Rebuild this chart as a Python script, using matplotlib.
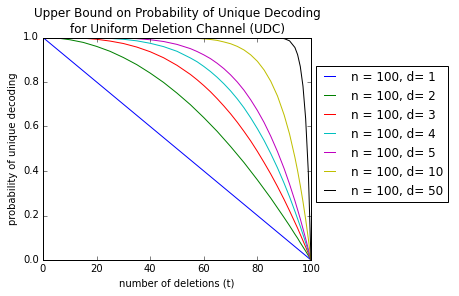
import matplotlib
matplotlib.use("Agg")
import matplotlib.pyplot as plt

plt.style.use("classic")

n = 100
t = [0, 5, 10, 15, 20, 25, 30, 35, 40, 45, 50, 55, 57.5, 60, 62.5, 65, 67.5,
     70, 72.5, 75, 77.5, 80, 82.5, 85, 87.5, 90, 92, 94, 95, 96, 97, 98, 99,
     100]

p_d1 = [1.0, .95, .90, .85, .80, .75, .70, .65, .60, .55, .50, .45, .425,
        .40, .375, .35, .325, .30, .275, .25, .225, .20, .175, .15, .125, .10,
        .08, .06, .05, .04, .03, .02, .01, 0.0]
p_d2 = [1.0, .998, .990, .978, .960, .938, .910, .878, .840, .798, .750, .698,
        .669, .640, .609, .578, .544, .510, .474, .438, .399, .360, .319, .278,
        .234, .190, .154, .116, .098, .078, .059, .040, .020, 0.0]
p_d3 = [1.0, 1.0, .999, .997, .992, .984, .973, .957, .936, .909, .875, .834,
        .810, .784, .756, .725, .692, .657, .619, .578, .535, .488, .438, .386,
        .330, .271, .221, .169, .143, .115, .087, .059, .030, 0.0]
p_d4 = [1.0, 1.0, 1.0, .999, .998, .996, .992, .985, .974, .959, .938, .908,
        .891, .870, .847, .821, .792, .760, .724, .684, .639, .590, .537, .478,
        .414, .344, .284, .219, .185, .151, .115, .078, .039, 0.0]
p_d5 = [1.0, 1.0, 1.0, 1.0, 1.0, .999, .998, .995, .990, .982, .969, .950,
        .937, .922, .905, .884, .860, .832, .800, .763, .720, .672, .618, .556,
        .487, .410, .341, .266, .226, .185, .141, .096, .049, 0.0]
p_d10 = [1.0, 1.0, 1.0, 1.0, 1.0, 1.0, 1.0, 1.0, 1.0, 1.0, .999, .997, .996,
         .994, .991, .987, .980, .972, .960, .944, .922, .893, .854, .803,
         .737, .651, .566, .461, .401, .335, .263, .183, .096, 0.0]
p_d50 = [1.0, 1.0, 1.0, 1.0, 1.0, 1.0, 1.0, 1.0, 1.0, 1.0, 1.0, 1.0, 1.0,
         1.0, 1.0, 1.0, 1.0, 1.0, 1.0, 1.0, 1.0, 1.0, 1.0, 1.0, .998, .995,
         .985, .955, .923, .870, .782, .636, .395, 0.0]

curves = [(1, p_d1), (2, p_d2), (3, p_d3), (4, p_d4), (5, p_d5),
          (10, p_d10), (50, p_d50)]

fig = plt.figure(figsize=(459 / 72, 296 / 72), dpi=72)
ax = fig.add_axes([43 / 459, 36 / 296, 268 / 459, 222.5 / 296])

for d, p in curves:
    ax.plot(t, p, label="n = %d, d= %d" % (n, d))

ax.set_xlim(0, 100)
ax.set_ylim(0, 1)
ax.tick_params(labelsize=10)
ax.set_xlabel("number of deletions (t)", fontsize=10)
ax.set_ylabel("probability of unique decoding", fontsize=10)
ax.set_title("Upper Bound on Probability of Unique Decoding\n"
             "for Uniform Deletion Channel (UDC)", fontsize=12)
ax.legend(loc="upper left", bbox_to_anchor=(1.019, 0.873), borderaxespad=0,
          fontsize=12, handlelength=1.5, handletextpad=1.0)

fig.savefig("out.png", dpi=72)
